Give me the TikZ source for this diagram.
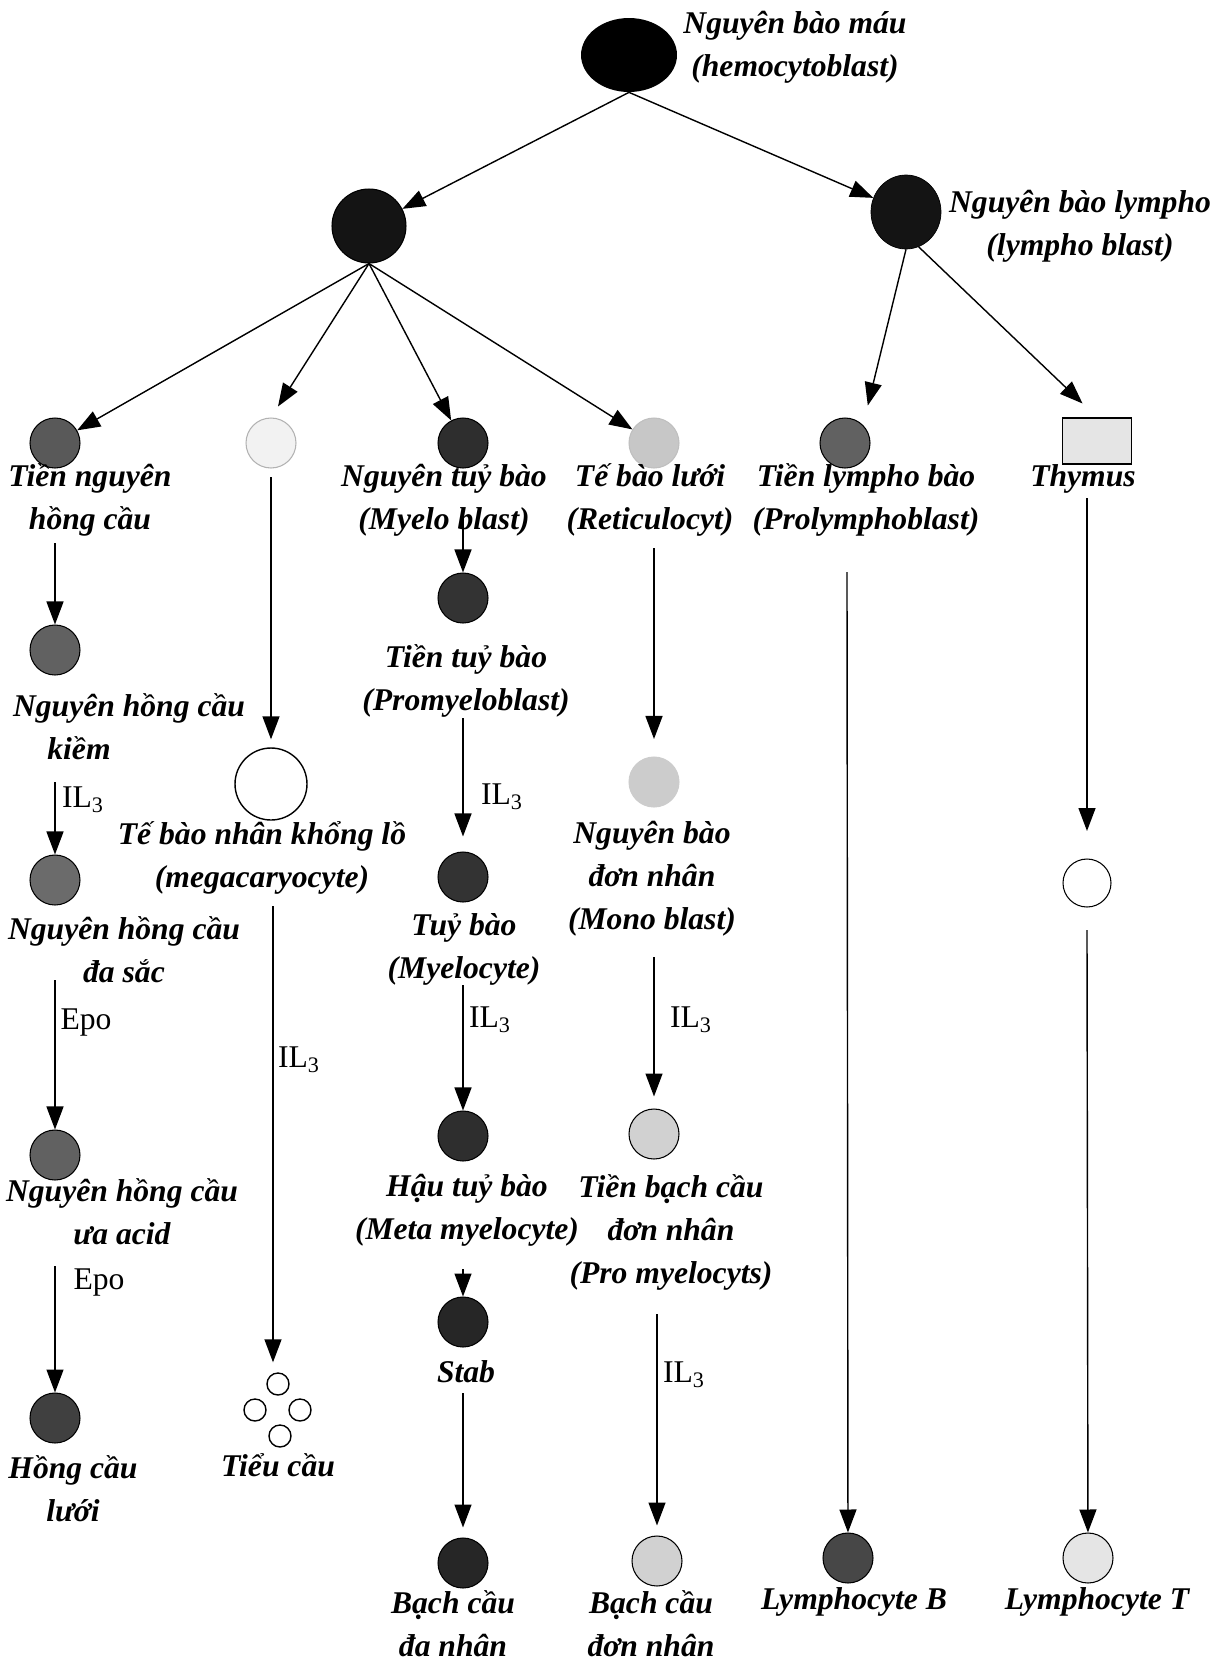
\documentclass[tikz,border=0pt]{standalone}
\usepackage{fontspec}
\setmainfont{Liberation Serif}
\usetikzlibrary{arrows.meta,shapes.geometric}

\begin{document}
\begin{tikzpicture}[x=0.02cm, y=-0.02cm,
    cell/.style={circle, draw=black, line width=0.6pt, minimum size=1cm, inner sep=0pt},
    plt/.style={circle, draw=black, line width=0.8pt, fill=white, minimum size=0.44cm, inner sep=0pt},
    lbl/.style={align=center, inner sep=0pt, font=\fontsize{18}{24.5}\selectfont\bfseries\itshape},
    fac/.style={inner sep=0pt, font=\fontsize{18}{20}\selectfont},
    arr/.style={-{Triangle[length=0.46cm,width=0.34cm]}, line width=0.8pt}]
    \useasboundingbox (0,0) rectangle (1226,1661);
    % stem cells
    \node[ellipse, fill=black, minimum width=1.92cm, minimum height=1.48cm, inner sep=0pt] (hsc) at (629,55) {};
    \node[lbl] (hscl) at (795,47) {Nguyên bào máu\\(hemocytoblast)};
    \node[cell, fill=black!92, minimum size=1.48cm] (mye) at (369,226) {};
    \node[ellipse, draw=black, fill=black!92, minimum width=1.4cm, minimum height=1.48cm, inner sep=0pt] (lym) at (906,212) {};
    \node[lbl] (lyml) at (1080,226) {Nguyên bào lympho\\(lympho blast)};
    \draw[arr] (hsc.south) -- (mye);
    \draw[arr] (hsc.south) -- (lym);
    % second row
    \node[cell, fill=black!65] (pe) at (55,443) {};
    \node[cell, fill=black!5, draw=black!30] (pm) at (271,443) {};
    \node[cell, fill=black!82] (mb) at (463,443) {};
    \node[cell, fill=black!22, draw=black!25] (rt) at (654,443) {};
    \node[cell, fill=black!62] (plb) at (845,443) {};
    \node[rectangle, draw=black, line width=0.8pt, fill=black!10, minimum width=1.38cm, minimum height=0.92cm] (thy) at (1097,441) {};
    \draw[arr] (mye.south) -- (pe);
    \draw[arr, shorten >=0.26cm] (mye.south) -- (pm.north);
    \draw[arr] (mye.south) -- (mb);
    \draw[arr] (mye.south) -- (rt);
    \draw[arr, shorten >=0.4cm] (lym.south) -- (plb.north east);
    \draw[arr, shorten >=0.4cm] (lym.-70) -- (thy.north);
    \node[lbl] (pel) at (90,500) {Tiền nguyên\\hồng cầu};
    \node[lbl] (mbl) at (444,500) {Nguyên tuỷ bào\\(Myelo blast)};
    \node[lbl] (rtl) at (650,500) {Tế bào lưới\\(Reticulocyt)};
    \node[lbl] (plbl) at (866,500) {Tiền lympho bào\\(Prolymphoblast)};
    \node[lbl] (thyl) at (1083,479) {Thymus};
    % red cell line
    \node[cell, fill=black!62] (eb1) at (55,650) {};
    \node[lbl] (eb1l) at (129,727) {Nguyên hồng cầu\\\hspace*{-2cm}kiềm};
    \node[cell, fill=black!58] (eb2) at (55,880) {};
    \node[lbl] (eb2l) at (124,950) {Nguyên hồng cầu\\đa sắc};
    \node[cell, fill=black!62] (eb3) at (55,1155) {};
    \node[lbl] (eb3l) at (122,1212) {Nguyên hồng cầu\\ưa acid};
    \node[cell, fill=black!75] (rbc) at (55,1418) {};
    \node[lbl] (rbcl) at (73,1489) {Hồng cầu\\lưới};
    \coordinate (e0) at (55,543);
    \coordinate (e1) at (55,782);
    \coordinate (e2) at (55,980);
    \coordinate (e3) at (55,1266);
    \draw[arr] (e0) -- (eb1);
    \draw[arr] (e1) -- (eb2);
    \draw[arr] (e2) -- (eb3);
    \draw[arr] (e3) -- (rbc);
    \node[fac] (il1) at (83,800) {IL\textsubscript{3}};
    \node[fac] (epo1) at (86,1022) {Epo};
    \node[fac] (epo2) at (99,1282) {Epo};
    % platelet line
    \node[cell, fill=white, line width=0.8pt, minimum size=1.44cm] (mk) at (271,784) {};
    \node[lbl] (mkl) at (262,858) {Tế bào nhân khổng lồ\\(megacaryocyte)};
    \foreach \i/\xx/\yy in {1/278/1384, 2/255/1410, 3/300/1410, 4/280/1436}
        \node[plt] (pt\i) at (\xx,\yy) {};
    \node[lbl] (ptl) at (278,1465) {Tiểu cầu};
    \coordinate (k0) at (271,477);
    \coordinate (k1) at (273,906);
    \draw[arr, shorten >=0.16cm] (k0) -- (mk);
    \draw[arr, shorten >=0.2cm] (k1) -- (k1 |- pt1.north);
    \node[fac] (il2) at (299,1060) {IL\textsubscript{3}};
    % granulocyte line
    \node[cell, fill=black!80] (pmy) at (463,598) {};
    \node[lbl] (pmyl) at (466,681) {Tiền tuỷ bào\\(Promyeloblast)};
    \node[cell, fill=black!80] (my) at (463,877) {};
    \node[lbl] (myl) at (464,949) {Tuỷ bào\\(Myelocyte)};
    \node[cell, fill=black!82] (mmy) at (463,1136) {};
    \node[lbl] (mmyl) at (467,1210) {Hậu tuỷ bào\\(Meta myelocyte)};
    \node[cell, fill=black!85] (stb) at (463,1322) {};
    \node[lbl] (stbl) at (466,1372) {Stab};
    \node[cell, fill=black!85] (pmn) at (463,1563) {};
    \node[lbl] (pmnl) at (453,1624) {Bạch cầu\\đa nhân};
    \coordinate (m0) at (463,513);
    \coordinate (m1) at (463,718);
    \coordinate (m2) at (463,985);
    \coordinate (m3) at (463,1269);
    \coordinate (m4) at (463,1393);
    \draw[arr] (m0) -- (pmy);
    \draw[arr, shorten >=0.3cm] (m1) -- (my);
    \draw[arr] (m2) -- (mmy);
    \draw[arr] (m3) -- (stb);
    \draw[arr, shorten >=0.2cm] (m4) -- (pmn);
    \node[fac] (il3) at (502,797) {IL\textsubscript{3}};
    \node[fac] (il4) at (490,1020) {IL\textsubscript{3}};
    % monocyte line
    \node[cell, fill=black!20, draw=black!20] (mob) at (654,782) {};
    \node[lbl] (mobl) at (652,879) {Nguyên bào\\đơn nhân\\(Mono blast)};
    \node[cell, fill=black!18] (pmo) at (654,1134) {};
    \node[lbl] (pmol) at (671,1232) {Tiền bạch cầu\\đơn nhân\\(Pro myelocyts)};
    \node[cell, fill=black!18] (mon) at (657,1561) {};
    \node[lbl] (monl) at (651,1624) {Bạch cầu\\đơn nhân};
    \coordinate (o0) at (654,548);
    \coordinate (o1) at (654,957);
    \coordinate (o2) at (657,1314);
    \draw[arr, shorten >=0.35cm] (o0) -- (mob);
    \draw[arr, shorten >=0.24cm] (o1) -- (pmo);
    \draw[arr, shorten >=0.2cm] (o2) -- (mon);
    \node[fac] (il5) at (691,1020) {IL\textsubscript{3}};
    \node[fac] (il6) at (684,1375) {IL\textsubscript{3}};
    % lymphocyte lines
    \node[cell, fill=black!72] (lyb) at (848,1558) {};
    \node[lbl] (lybl) at (854,1602) {Lymphocyte B};
    \node[cell, fill=white, minimum size=0.96cm] (tc) at (1087,883) {};
    \node[cell, fill=black!10] (lyt) at (1088,1558) {};
    \node[lbl] (lytl) at (1097,1602) {Lymphocyte T};
    \coordinate (b0) at (847,572);
    \coordinate (t0) at (1087,498);
    \coordinate (t1) at (1087,930);
    \draw[arr] (b0) -- (lyb);
    \draw[arr, shorten >=0.55cm] (t0) -- (tc);
    \draw[arr] (t1) -- (lyt);
\end{tikzpicture}
\end{document}
